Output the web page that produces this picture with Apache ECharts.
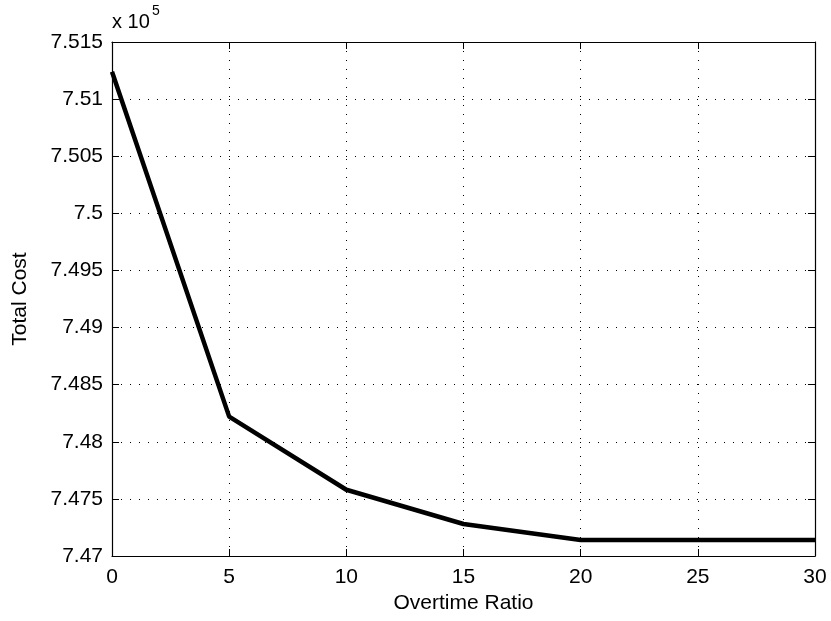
<!DOCTYPE html>
<html>
<head>
<meta charset="utf-8">
<script src="https://cdn.jsdelivr.net/npm/echarts@6/dist/echarts.min.js"></script>
<style>
  html, body { margin: 0; padding: 0; background: #fff; }
  #main { width: 831px; height: 621px; }
</style>
</head>
<body>
<div id="main"></div>
<script>
// overtime ratio on x, total cost (x 10^5) on y
var ratios = [0, 5, 10, 15, 20, 25, 30]
var totalCost = [7.5124, 7.4822, 7.4758, 7.4728, 7.4714, 7.4714, 7.4714]
var xTicks = [0, 5, 10, 15, 20, 25, 30]

var font = 'Liberation Sans, Arial, Helvetica, sans-serif'
var chart = echarts.init(document.getElementById('main'))

var fmtY = function (v) { return String(parseFloat(v.toFixed(3))) }
var dotted = { show: true, lineStyle: { color: '#000', type: [1, 8], width: 1 } }

chart.setOption({
  animation: false,
  backgroundColor: '#fff',
  grid: { left: 112, right: 16, top: 42, bottom: 65, show: false, containLabel: false, outerBoundsMode: 'none' },
  xAxis: [{
    type: 'value', min: 0, max: 30, interval: 5,
    name: 'Overtime Ratio', nameLocation: 'middle', nameGap: 36,
    nameTextStyle: { color: '#000', fontSize: 21, fontFamily: font },
    axisLine: { show: true, onZero: false, lineStyle: { color: '#000', width: 1.2 } },
    axisTick: { show: true, inside: true, length: 7, lineStyle: { color: '#000' } },
    axisLabel: { color: '#000', fontSize: 21, fontFamily: font, margin: 11,
      formatter: function (v) { return xTicks.indexOf(v) >= 0 ? String(v) : '' } },
    splitLine: dotted
  }, {
    type: 'value', min: 0, max: 30, interval: 5, position: 'top',
    axisLine: { show: true, onZero: false, lineStyle: { color: '#000', width: 1.2 } },
    axisTick: { show: true, inside: true, length: 7, lineStyle: { color: '#000' } },
    axisLabel: { show: false }, splitLine: { show: false }
  }],
  yAxis: [{
    type: 'value', min: 7.47, max: 7.515, interval: 0.005,
    name: 'Total Cost', nameLocation: 'middle', nameGap: 81,
    nameTextStyle: { color: '#000', fontSize: 21, fontFamily: font },
    axisLine: { show: true, onZero: false, lineStyle: { color: '#000', width: 1.2 } },
    axisTick: { show: true, inside: true, length: 7, lineStyle: { color: '#000' } },
    axisLabel: { color: '#000', fontSize: 21, fontFamily: font, margin: 9, formatter: fmtY },
    splitLine: dotted
  }, {
    type: 'value', min: 7.47, max: 7.515, interval: 0.005, position: 'right',
    axisLine: { show: true, onZero: false, lineStyle: { color: '#000', width: 1.2 } },
    axisTick: { show: true, inside: true, length: 7, lineStyle: { color: '#000' } },
    axisLabel: { show: false }, splitLine: { show: false }
  }],
  graphic: [
    { type: 'text', left: 112, top: 12,
      style: { text: 'x 10', fontSize: 20, fontFamily: font, fill: '#000' } },
    { type: 'text', left: 152, top: 4,
      style: { text: '5', fontSize: 14, fontFamily: font, fill: '#000' } }
  ],
  series: [{
    type: 'line',
    data: ratios.map(function (r, i) { return [r, totalCost[i]] }),
    showSymbol: false,
    lineStyle: { color: '#000', width: 4.5 },
    clip: false
  }]
})
</script>
</body>
</html>
